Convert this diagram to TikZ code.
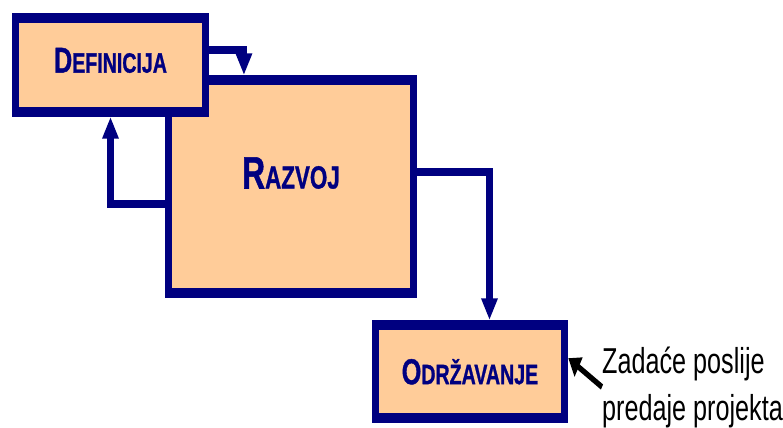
\documentclass[tikz,border=0pt]{standalone}
\usepackage{fontspec}
\setmainfont{Liberation Sans}
\newfontfamily\stagefont[FakeBold=1.2]{Liberation Sans Bold}
\usetikzlibrary{arrows.meta}

\definecolor{boxnavy}{RGB}{0,0,128}
\definecolor{boxpeach}{RGB}{255,204,153}
\newcommand{\bigsmall}[4]{{\fontsize{#1}{#1}\selectfont #3}{\fontsize{#2}{#2}\selectfont #4}}

\tikzset{
  stage/.style={draw=boxnavy, fill=boxpeach, line width=8pt, inner sep=0pt, text=boxnavy, font=\stagefont},
  flow/.style={draw=boxnavy, line width=6.5pt, -{Triangle[length=16pt,width=17pt]}},
  pointer/.style={draw=black, line width=4.5pt, -{Triangle[length=13pt,width=16pt]}}
}

\begin{document}
\begin{tikzpicture}
\useasboundingbox (0,0) rectangle (587.25pt,-321pt);
\begin{scope}[x=1.0714pt,y=-0.75pt,transform canvas={xscale=0.7}]
\node[stage, minimum width=262.5pt, minimum height=159.75pt, text height=24pt, text depth=21pt] (raz) at (291,186.5) {\bigsmall{34pt}{24pt}{R}{AZVOJ}};
\node[stage, minimum width=203.6pt, minimum height=70.5pt, text height=19pt, text depth=7.5pt] (def) at (110.5,65) {\bigsmall{27pt}{21pt}{D}{EFINICIJA}};
\node[stage, minimum width=202.5pt, minimum height=69.75pt, text height=19pt, text depth=0pt] (odr) at (470,371.5) {\bigsmall{27pt}{21pt}{O}{DRŽAVANJE}};

\draw[flow] ([yshift=11.25pt]def.east) -| ([xshift=-50.4pt]raz.north);
\draw[flow] ([yshift=-13.1pt]raz.west) -| (def.south);
\draw[flow] ([yshift=10.9pt]raz.east) -| ([xshift=20.9pt]odr.north);

\node[anchor=west, inner sep=0pt, align=left, font=\fontsize{27pt}{35.25pt}\selectfont] (note) at (602,387) {Zadaće poslije\\predaje projekta};
\draw[pointer] (note.west) -- ([yshift=10pt]odr.east);
\end{scope}
\end{tikzpicture}
\end{document}
